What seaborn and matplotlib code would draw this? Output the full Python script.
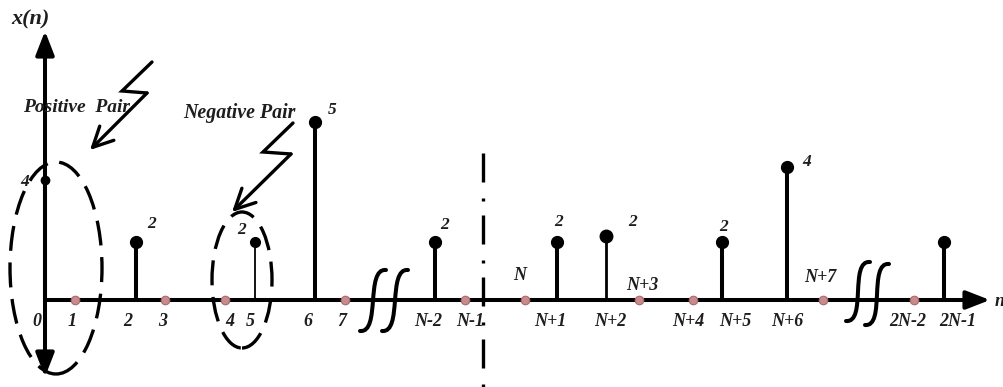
import numpy as np
import pandas as pd
import matplotlib
matplotlib.use("Agg")
import matplotlib.pyplot as plt
from matplotlib.patches import Ellipse, PathPatch
from matplotlib.path import Path
import seaborn as sns

# ---------------- data ----------------
sample_labels = ['0', '1', '2', '3', '4', '5', '6', '7', 'N-2', 'N-1',
                 'N', 'N+1', 'N+2', 'N+3', 'N+4', 'N+5', 'N+6', 'N+7', '2N-2', '2N-1']
# position of each sample along the (schematic, non-uniform) n axis
axis_pos = [0, 1, 3.03, 4, 6, 7, 9, 10, 13, 14,
            16, 17.07, 18.7, 19.8, 21.6, 22.57, 24.73, 25.93, 28.97, 29.97]
# drawn stem heights (schematic, as in the picture)
drawn_height = [4.0, 0, 1.93, 0, 0, 1.93, 5.93, 0, 1.93, 0,
                0, 1.93, 2.13, 0, 0, 1.93, 4.43, 0, 0, 1.93]
# value written next to each stem
value_text = ['4', '', '2', '', '', '2', '5', '', '2', '',
              '', '2', '2', '', '', '2', '4', '', '', '']
labels_above_axis = ['N', 'N+3', 'N+7']

df = pd.DataFrame({"label": sample_labels, "pos": axis_pos,
                   "height": drawn_height, "text": value_text})

# ---------------- style ----------------
sns.set_theme(style="white")
plt.rcParams['font.family'] = ['Liberation Serif', 'DejaVu Serif']
FONT = dict(fontstyle='italic', fontweight='bold', color='#1e1e1e')
LW = 2.9            # main stroke width (pt)
PINK = '#c98a8c'

W, H = 1004, 387
fig = plt.figure(figsize=(W / 100, H / 100), dpi=100)
ax = fig.add_axes([0, 0, 1, 1])
ax.set_xlim((0 - 45) / 30, (W - 45) / 30)
ax.set_ylim((300 - H) / 30, 300 / 30)
ax.set_axis_off()


def px(x, y):
    """pixel position of the reference -> data coordinates (decorations only)"""
    return ((x - 45) / 30, (300 - y) / 30)


# ---------------- axes with arrows ----------------
ax.annotate('', xy=px(45, 31), xytext=px(45, 377),
            arrowprops=dict(arrowstyle='<|-|>,head_length=0.9,head_width=0.35',
                            lw=LW, color='black', shrinkA=0, shrinkB=0,
                            mutation_scale=16))
ax.annotate('', xy=px(990, 300), xytext=px(45, 300),
            arrowprops=dict(arrowstyle='-|>,head_length=0.9,head_width=0.35',
                            lw=LW, color='black', shrinkA=0, shrinkB=0,
                            mutation_scale=16))

# ---------------- stems ----------------
stem_lw = {'5': 1.3, 'N+2': 2.0, '0': LW}
marker_ms = {'0': 6, '5': 7, 'N+2': 9}
nonzero = df[df.height > 0]
for _, r in nonzero.iterrows():
    ax.vlines(r.pos, 0, r.height, color='black', lw=stem_lw.get(r.label, LW), zorder=3)
    ax.plot(r.pos, r.height, 'o', color='black', ms=marker_ms.get(r.label, 8.5), zorder=4)

zeros = df[df.height == 0]
sns.scatterplot(data=zeros, x="pos", y="height", ax=ax, color=PINK, s=38,
                edgecolor='#a86a6c', linewidth=0.8, zorder=5, legend=False)

# value labels next to stems
val_off = {'0': (-20, -2), '2': (16, 18), '5': (-13, 12), '6': (17, 12),
           'N-2': (10, 17), 'N+1': (1, 20), 'N+2': (27, 14), 'N+5': (1, 15),
           'N+6': (20, 5)}
for _, r in nonzero.iterrows():
    if r.text:
        dx, dy = val_off.get(r.label, (10, 15))
        ax.annotate(r.text, (r.pos, r.height), xytext=(dx, dy),
                    textcoords='offset pixels', ha='center', va='center',
                    fontsize=12.5, **FONT)

# n-axis labels
tick_nudge = {'0': -8, '1': -3, '2': -8, '3': -2, '4': 5, '5': -5, '6': -7,
              '7': -3, 'N-2': -7, 'N-1': 5, 'N+1': -7, 'N+2': 4, 'N+4': -5,
              'N+5': 13, 'N+6': 0, '2N-2': -6, '2N-1': 14}
above_off = {'N': (-5, 25), 'N+3': (3, 15), 'N+7': (-3, 22)}
for _, r in df.iterrows():
    if r.label in labels_above_axis:
        dx, dy = above_off[r.label]
        ax.annotate(r.label, (r.pos, 0), xytext=(dx, dy), textcoords='offset pixels',
                    ha='center', va='center', fontsize=13, **FONT)
    else:
        ax.annotate(r.label, (r.pos, 0), xytext=(tick_nudge.get(r.label, 0), -21),
                    textcoords='offset pixels', ha='center', va='center',
                    fontsize=13, **FONT)

# axis titles
ax.text(*px(30, 19), 'x(n)', ha='center', va='center', fontsize=16, **FONT)
ax.text(*px(1000, 302), 'n', ha='center', va='center', fontsize=13, **FONT)

# ---------------- symmetry line ----------------
ax.plot(*zip(px(483, 153), px(483, 390)), color='black', lw=2.4,
        linestyle=(0, (8.7, 4.8, 0.9, 4.2)), solid_capstyle='butt',
        dash_capstyle='butt', zorder=2)

# ---------------- break marks ----------------
def squiggle(x0, y0, x1, y1):
    verts = [px(x0, y0), px(x0 + 21, y0 + 2), px(x1 - 21, y1 - 2), px(x1, y1)]
    p = Path(verts, [Path.MOVETO, Path.CURVE4, Path.CURVE4, Path.CURVE4])
    ax.add_patch(PathPatch(p, fill=False, lw=LW, color='black', zorder=6,
                           capstyle='round'))


squiggle(360, 331, 386, 270)
squiggle(382, 331, 408, 270)
squiggle(846, 321, 870, 262)
squiggle(865, 325, 889, 264)

# ---------------- pair annotations ----------------
ell_style = dict(fill=False, lw=2.4, color='black', linestyle=(0, (7.5, 3.5)), zorder=6)
ax.add_patch(Ellipse(px(56, 268), 92 / 30, 212 / 30, **ell_style))
ax.add_patch(Ellipse(px(242, 280), 60 / 30, 136 / 30, **ell_style))


def lightning(points):
    pts = [px(*p) for p in points]
    xs, ys = zip(*pts[:-1])
    ax.plot(xs, ys, color='black', lw=2.4, solid_joinstyle='miter', zorder=6)
    ax.annotate('', xy=pts[-1], xytext=pts[-2],
                arrowprops=dict(arrowstyle='->,head_length=0.9,head_width=0.45',
                                lw=2.4, color='black', shrinkA=0, shrinkB=0,
                                mutation_scale=16))


lightning([(152, 62), (122, 91), (147, 93), (90, 150)])
lightning([(293, 123), (263, 152), (291, 154), (232, 212)])

ax.text(*px(77, 107), 'Positive  Pair', ha='center', va='center', fontsize=14, **FONT)
ax.text(*px(239, 113), 'Negative Pair', ha='center', va='center', fontsize=14.3, **FONT)

fig.savefig('out.png', dpi=100)
